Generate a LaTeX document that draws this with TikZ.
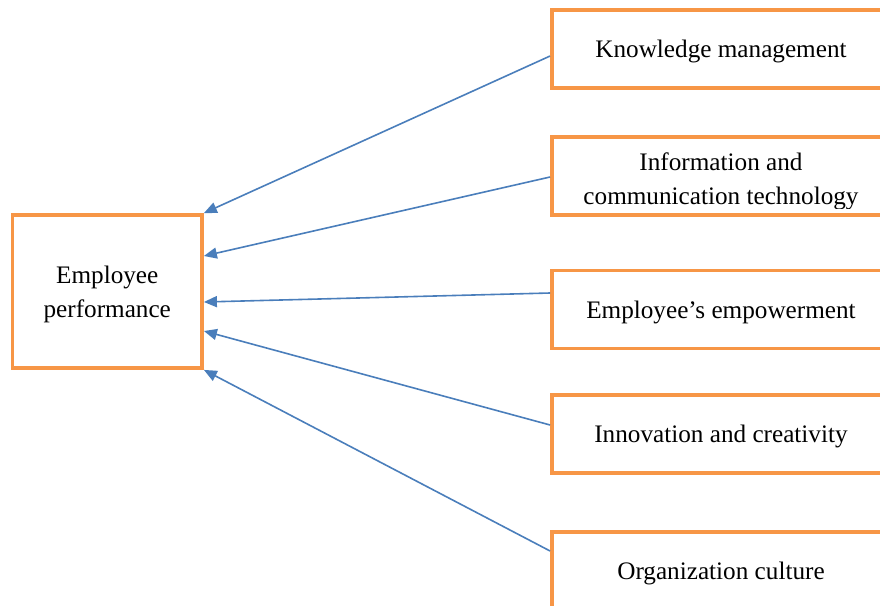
\documentclass[tikz,border=0pt]{standalone}
\usepackage{fontspec}
\setmainfont{Liberation Serif}
\usetikzlibrary{arrows.meta,calc}
\definecolor{boxorange}{HTML}{F79646}
\definecolor{arrowblue}{HTML}{4A7EBB}
\begin{document}
\begin{tikzpicture}[x=0.5pt,y=-0.5pt,
  box/.style={draw=boxorange,line width=1.9pt,rectangle,inner sep=0pt,align=center,text depth=0pt,font=\fontsize{12.6}{17}\selectfont},
  rbox/.style={box,minimum width=169pt,minimum height=39pt},
  boxtext/.style={inner sep=0pt,align=center,font=\fontsize{12.6}{17}\selectfont},
  link/.style={draw=arrowblue,line width=0.8pt,-{Triangle[length=6.5pt,width=5.5pt]}}]
\useasboundingbox (0,0) rectangle (880,606);
\clip (0,0) rectangle (880,606);
\node[box,minimum width=94.75pt,minimum height=76.5pt] (ep) at (107.25,291.5) {Employee\\performance};
\node[rbox] (km) at (721,49) {Knowledge management};
\node[rbox] (ict) at (721,176) {};
\begin{scope}
  \clip ($(ict.north west)+(2,2)$) rectangle (880,208.5);
  \node[boxtext] (ictt) at (721,181.7) {Information and\\communication technology};
\end{scope}
\node[rbox] (emp) at (721,309.5) {Employee’s empowerment};
\node[rbox] (inn) at (721,433.75) {Innovation and creativity};
\node[rbox] (org) at (721,571) {Organization culture};
\draw[link] ($(km.west)+(0,7)$) -- (ep.north east);
\draw[link] ($(ict.west)+(0,1)$) -- ($(ep.east)+(0,-35.5)$);
\draw[link] ($(emp.west)+(0,-16.5)$) -- ($(ep.east)+(0,10.5)$);
\draw[link] ($(inn.west)+(0,-8.75)$) -- ($(ep.east)+(0,39.5)$);
\draw[link] ($(org.west)+(0,-20)$) -- (ep.south east);
\end{tikzpicture}
\end{document}
